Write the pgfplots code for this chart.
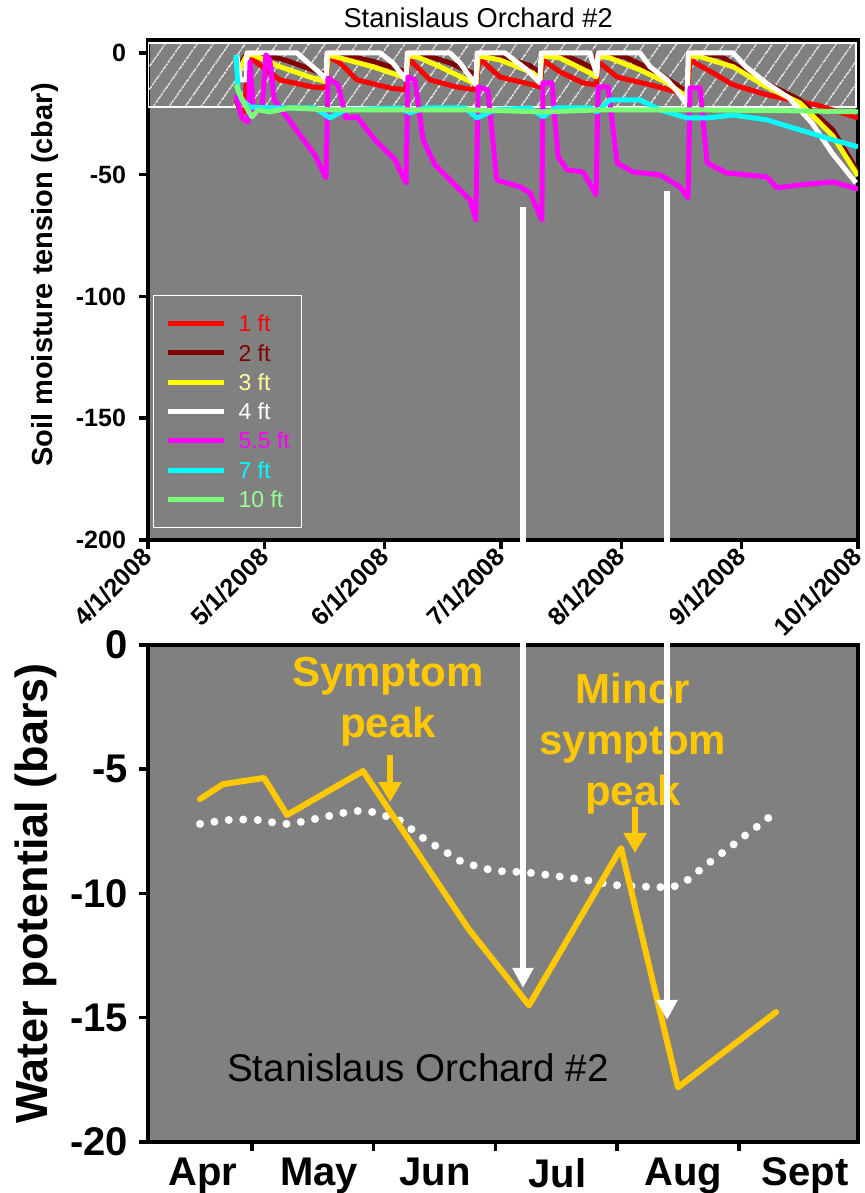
\documentclass[border=0pt]{standalone}
\usepackage{pgfplots}
\pgfplotsset{compat=1.18}
\usetikzlibrary{patterns.meta,arrows.meta}
\usepackage{fontspec}
\setmainfont{Liberation Sans}
\definecolor{bggray}{RGB}{128,128,128}
\definecolor{pred}{RGB}{255,0,0}
\definecolor{dkred}{RGB}{128,0,0}
\definecolor{pyellow}{RGB}{255,255,0}
\definecolor{pmagenta}{RGB}{255,0,255}
\definecolor{pcyan}{RGB}{0,255,255}
\definecolor{lgreen}{RGB}{120,255,120}
\definecolor{paleyellow}{RGB}{255,255,153}
\definecolor{palegreen}{RGB}{153,255,153}
\definecolor{gold}{RGB}{255,200,0}
\begin{document}
\begin{tikzpicture}
\useasboundingbox (0,0) rectangle (432.5pt,596.5pt);
% ---------------- top axis ----------------
\begin{axis}[
  at={(74pt,326.5pt)}, anchor=south west,
  scale only axis, width=355pt, height=250pt,
  xmin=0, xmax=183, ymin=-200, ymax=5.3,
  axis background/.style={fill=bggray},
  axis line style={line width=1.75pt},
  tick align=outside, tick pos=left,
  major tick length=4.5pt,
  every tick/.style={black, line width=1.75pt},
  xtick={0,30,61,91,122,153,183},
  xticklabels={4/1/2008,5/1/2008,6/1/2008,7/1/2008,8/1/2008,9/1/2008,10/1/2008},
  ytick={-200,-150,-100,-50,0},
  yticklabels={-200,-150,-100,-50,0},
  tick label style={font=\fontsize{12.5}{13}\selectfont\bfseries},
  x tick label style={rotate=45, anchor=east, xshift=2pt, yshift=-1pt},
  y tick label style={xshift=-3pt},
  every axis title shift=0pt,
  title={Stanislaus Orchard \#2},
  title style={font=\fontsize{13.6}{14}\selectfont, at={(axis description cs:0.465,1.044)}, anchor=center},
  ylabel={Soil moisture tension (cbar)},
  ylabel style={font=\fontsize{14.5}{15}\selectfont\bfseries, at={(axis description cs:-0.145,0.53)}, anchor=center},
  legend style={at={(axis description cs:0.007,0.49)}, anchor=north west, draw=white, line width=0.6pt, fill=bggray,
    font=\fontsize{11.5}{12}\selectfont, inner xsep=6pt, inner ysep=6.7pt, row sep=0pt, column sep=6pt,
    nodes={inner sep=0pt, text height=11.4pt, text depth=3.25pt}, cells={anchor=west}},
  legend image code/.code={\draw[#1, line width=2.5pt] (0pt,0pt) -- (28pt,0pt);},
]
\fill[pattern={Lines[angle=55, distance=6.5pt, line width=0.5pt]}, pattern color=white] (axis cs:0,4.1) rectangle (axis cs:182.5,-22.2);
\draw[white, line width=0.6pt] (axis cs:0,4.1) rectangle (axis cs:182.5,-22.2);
% 1 ft
\addplot[pred, line width=2.5pt, line join=round] coordinates {
(22.7,-19.3) (23.7,-23.4) (25,-24.2) (25.5,-2.9) (27.1,-2.9) (34.0,-11.1) (42.5,-14.0) (45.9,-14.4)
(46.4,-1.6) (49.5,-4.1) (53.9,-11.1) (62.4,-14.4) (66.5,-15.2)
(67,-2.1) (72.7,-11.1) (79.6,-14.0) (84.5,-15.2)
(85.3,-2.1) (90.7,-9.9) (99.2,-13.1) (101,-14)
(101.8,-2.9) (106.2,-7.8) (112.1,-12.3) (115.5,-13.1)
(116.2,-3.7) (120.9,-9.9) (129.4,-13.1) (137.1,-16.4) (138.9,-18.1)
(139.7,-2.9) (145.6,-8.2) (150.8,-13.1) (159.5,-17.2) (168,-20.1) (172.4,-21.4) (183,-26.7)};
\addlegendentry{\textcolor{pred}{1 ft}}
% 2 ft
\addplot[dkred, line width=2.5pt, line join=round] coordinates {
(22.9,-7) (25.5,0) (28.9,-0.4) (35.3,-2.9) (42.5,-7) (45.9,-9)
(46.1,0) (50.8,-0.8) (58.5,-3.7) (66.5,-7.8)
(66.8,0) (71.4,-0.8) (77.8,-4.1) (84.5,-9)
(84.8,0) (90.7,-1.2) (98.5,-5.3) (101,-8.2)
(101.3,0) (107.5,-0.8) (115.5,-7)
(115.7,0) (122.9,-1.6) (131.9,-8.6) (138.9,-16)
(139.2,0) (147.4,-1.2) (157.7,-11.1) (168,-19.3) (176.5,-31.6) (183,-48.9)};
\addlegendentry{\textcolor{dkred}{2 ft}}
% 3 ft
\addplot[pyellow, line width=2.5pt, line join=round] coordinates {
(22.9,-9) (25.5,-0.8) (27.1,-0.8) (34.0,-5.7) (42.5,-10.3) (45.9,-11.9)
(46.4,-0.8) (49.5,-2.1) (58.0,-5.7) (66.5,-10.3)
(67.0,-1.2) (69.3,-1.6) (75.3,-5.7) (82.2,-11.1) (84.5,-12.7)
(85.1,-1.2) (90.7,-2.9) (99.2,-8.2) (101,-11.1)
(101.5,-1.2) (106.2,-2.1) (113.9,-8.2) (115.5,-9.9)
(116,-1.2) (119.1,-2.1) (126.8,-7.0) (133.8,-12.3) (138.9,-18.1)
(139.4,-1.2) (142.3,-1.6) (150.8,-5.7) (159.5,-14.0) (168.0,-20.5) (176.5,-34.1) (183,-50.5)};
\addlegendentry{\textcolor{paleyellow}{3 ft}}
% 4 ft
\addplot[white, line width=2.5pt, line join=round] coordinates {
(22.9,-0.8) (23.7,-11.1) (25.3,-11.1) (25.5,0) (38.4,0) (41.0,-3.7) (44.3,-8.2) (45.9,-11.1)
(46.1,0) (59.8,0) (63.1,-4.1) (66.5,-11.1)
(66.8,0) (77.8,0) (80.4,-4.1) (84.5,-13.1)
(84.8,0) (92.0,0) (97.7,-7) (101.0,-12.3)
(101.3,0) (113.9,0) (115.7,-9)
(116.0,0) (126.8,0) (129.4,-5.7) (133.8,-11.1) (137.1,-17.2) (138.9,-21.4)
(139.2,0) (150.8,0) (154.1,-5.7) (159.3,-12.3) (165.2,-18.5) (171.1,-28.7) (176.3,-41.1) (182.5,-53.4)};
\addlegendentry{\textcolor{white}{4 ft}}
% 5.5 ft
\addplot[pmagenta, line width=2.5pt, line join=round] coordinates {
(22.7,-17.2) (24.2,-26.7) (25.8,-28.3) (26.3,-3.7) (27.3,-25.5) (29.4,-22.6) (30.4,-0.8) (31.4,-2.9)
(32.5,-19.3) (35.8,-26.3) (39.2,-33.7) (43,-41.9) (45.9,-51.3)
(46.4,-10.3) (49,-13.1) (51,-26.7) (53.9,-26.3) (58.5,-35.7) (63.7,-43.9) (66.5,-53.4)
(67,-9.9) (68.8,-11.1) (70.9,-35.7) (74,-46) (79.1,-54.2) (83,-60.4) (84.5,-68.6)
(85.1,-14) (87.6,-15.2) (89.9,-52.2) (95.9,-55) (98.5,-57.5) (101.5,-68.6)
(101.8,-12.3) (104.1,-12.3) (105.7,-42.7) (108,-48) (112.1,-48.9) (115.5,-58.3)
(116,-14) (118.6,-14) (120.9,-45.2) (125,-48.9) (132,-50.1) (137.1,-55) (139.2,-59.5)
(139.7,-14.4) (142.3,-14.4) (144.1,-45.2) (149.2,-49.3) (159.5,-50.9) (162.1,-55.4) (168,-54.2) (176.5,-53) (183,-55.9)};
\addlegendentry{\textcolor{pmagenta}{5.5 ft}}
% 7 ft
\addplot[pcyan, line width=2.5pt, line join=round] coordinates {
(22.7,-0.8) (23.2,-15.2) (24.2,-19.3) (26.3,-22.2) (31.4,-22.6) (43,-22.6) (46.9,-26.7) (50.8,-23.4)
(64.9,-22.6) (67.5,-24.6) (71.4,-22.6) (81.7,-22.6) (84.8,-26.7) (89.4,-23.4) (98.5,-22.6) (101.8,-26.3)
(104.9,-22.6) (113.9,-22.6) (115.7,-24.2) (119.1,-19.3) (126.8,-19.3) (132,-23.4) (138.9,-26.7) (144.1,-26.7)
(150.8,-25.5) (159.5,-27.5) (168,-31.6) (176.5,-35.7) (183,-38.6)};
\addlegendentry{\textcolor{pcyan}{7 ft}}
% 10 ft
\addplot[lgreen, line width=2.5pt, line join=round] coordinates {
(22.7,-13.1) (23.7,-17.2) (25,-21.4) (26.8,-26.3) (28.4,-23.4) (31.4,-24.2) (36.6,-22.6) (46.9,-23.4)
(64.9,-23.4) (83,-23.4) (101.8,-24.2) (116.5,-23.4) (142.3,-23.4) (168,-23.8) (183,-24.2)};
\addlegendentry{\textcolor{palegreen}{10 ft}}
\end{axis}
% ---------------- bottom axis ----------------
\begin{axis}[
  at={(74pt,25.5pt)}, anchor=south west,
  scale only axis, width=355pt, height=248.5pt,
  xmin=0.1454, xmax=5.979, ymin=-20, ymax=0,
  axis background/.style={fill=bggray},
  axis line style={line width=1.75pt},
  tick align=outside, tick pos=left,
  major tick length=4.5pt,
  every tick/.style={black, line width=1.75pt},
  xtick={1,2,3,4,5}, xticklabels={},
  extra x ticks={0.597,1.553,2.506,3.508,4.543,5.545},
  extra x tick labels={Apr,May,Jun,Jul,Aug,Sept},
  extra x tick style={major tick length=0pt, tick label style={yshift=-4.5pt}},
  ytick={-20,-15,-10,-5,0},
  yticklabels={-20,-15,-10,-5,0},
  tick label style={font=\fontsize{20}{21}\selectfont\bfseries},
  y tick label style={xshift=-2pt},
  ylabel={Water potential (bars)},
  ylabel style={font=\fontsize{22.5}{23}\selectfont\bfseries, at={(axis description cs:-0.158,0.5)}, anchor=center},
]
\addplot[white, line width=4pt, line cap=round, dash pattern=on 0pt off 7.25pt, smooth] coordinates {
(0.573,-7.20) (0.811,-7.04) (1.04,-7.04) (1.279,-7.20) (1.518,-7.00) (1.748,-6.76) (1.863,-6.68) (1.986,-6.72)
(2.10,-6.88) (2.224,-7.08) (2.339,-7.53) (2.454,-7.93) (2.569,-8.25) (2.693,-8.65) (2.808,-8.85) (2.923,-9.01)
(3.038,-9.10) (3.25,-9.15) (3.50,-9.30) (3.744,-9.46) (3.983,-9.66) (4.328,-9.74) (4.451,-9.74) (4.566,-9.50)
(4.681,-9.05) (4.796,-8.61) (4.919,-8.17) (5.034,-7.73) (5.158,-7.28) (5.273,-6.84)};
\addplot[gold, line width=3pt, line join=round, line cap=round] coordinates {
(0.573,-6.2) (0.762,-5.6) (1.099,-5.35) (1.288,-6.84) (1.912,-5.07) (2.775,-11.4) (3.276,-14.5) (4.032,-8.17) (4.500,-17.8) (5.306,-14.77)};
\node[gold, font=\fontsize{21}{25.5}\selectfont\bfseries, align=center] at (axis cs:2.117,-2.29) {Symptom\\peak};
\node[gold, font=\fontsize{21}{25.5}\selectfont\bfseries, align=center] at (axis cs:4.13,-3.98) {Minor\\symptom\\peak};
\node[black, font=\fontsize{19.3}{20}\selectfont] at (axis cs:2.364,-17.02) {Stanislaus Orchard \#2};
\draw[gold, line width=3pt, -{Triangle[width=11pt,length=10pt]}] (axis cs:2.134,-4.43) -- (axis cs:2.134,-6.32);
\draw[gold, line width=3pt, -{Triangle[width=11pt,length=10pt]}] (axis cs:4.147,-6.52) -- (axis cs:4.147,-8.37);
\end{axis}
% long white arrows
\draw[white, line width=3pt, -{Triangle[width=10pt,length=10pt]}] (261.5pt,493pt) -- (261.5pt,102.5pt);
\draw[white, line width=3pt, -{Triangle[width=10pt,length=10pt]}] (333.5pt,501pt) -- (333.5pt,86.5pt);
\end{tikzpicture}
\end{document}
